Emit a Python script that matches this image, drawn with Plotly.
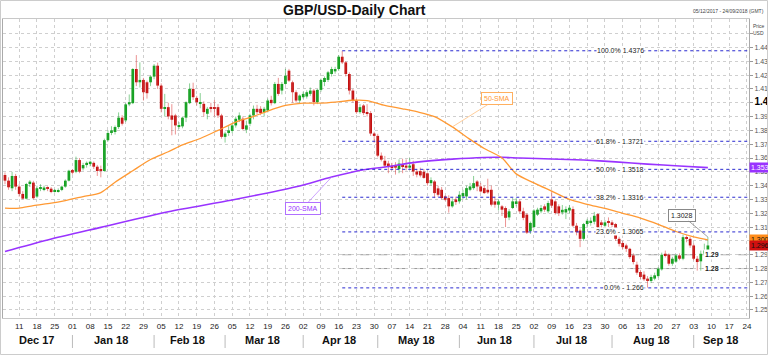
import pandas as pd
import plotly.graph_objects as go

FONT = "Arial, 'Liberation Sans', sans-serif"

# ---------------- data ----------------
trade_days = pd.bdate_range("2017-12-05", "2018-09-07")   # candles
axis_days = pd.bdate_range("2017-12-05", "2018-09-24")    # x axis extent

opens = [
    1.3477, 1.3436, 1.3381, 1.3470, 1.3393, 1.3340, 1.3306, 1.3412, 1.3422, 1.3321,
    1.3376, 1.3374, 1.3383, 1.3378, 1.3357, 1.3357, 1.3369, 1.3393, 1.3436, 1.3513,
    1.3501, 1.3585, 1.3525, 1.3549, 1.3556, 1.3565, 1.3537, 1.3520, 1.3506, 1.3729,
    1.3781, 1.3788, 1.3824, 1.3892, 1.3872, 1.3988, 1.3997, 1.4244, 1.4148, 1.4165,
    1.4148, 1.4148, 1.4189, 1.4268, 1.4124, 1.3956, 1.3968, 1.3908, 1.3908, 1.3829,
    1.3829, 1.3892, 1.3997, 1.4100, 1.4035, 1.3997, 1.3992, 1.3920, 1.3968, 1.3968,
    1.3968, 1.3908, 1.3753, 1.3781, 1.3796, 1.3836, 1.3877, 1.3884, 1.3805, 1.3848,
    1.3908, 1.3956, 1.3956, 1.3932, 1.3944, 1.4021, 1.3997, 1.4136, 1.4088, 1.4136,
    1.4232, 1.4148, 1.4076, 1.4016, 1.4040, 1.4045, 1.4064, 1.4088, 1.4004, 1.4093,
    1.4150, 1.4165, 1.4208, 1.4227, 1.4244, 1.4333, 1.4292, 1.4208, 1.4088, 1.4016,
    1.3932, 1.3980, 1.3932, 1.3925, 1.3777, 1.3760, 1.3617, 1.3580, 1.3560, 1.3545,
    1.3550, 1.3520, 1.3550, 1.3545, 1.3530, 1.3555, 1.3502, 1.3505, 1.3500, 1.3489,
    1.3418, 1.3430, 1.3380, 1.3370, 1.3322, 1.3310, 1.3250, 1.3300, 1.3286, 1.3322,
    1.3322, 1.3370, 1.3382, 1.3430, 1.3394, 1.3382, 1.3370, 1.3370, 1.3286, 1.3262,
    1.3250, 1.3238, 1.3170, 1.3238, 1.3274, 1.3286, 1.3214, 1.3190, 1.3071, 1.3100,
    1.3190, 1.3214, 1.3250, 1.3214, 1.3300, 1.3286, 1.3250, 1.3206, 1.3206, 1.3220,
    1.3230, 1.3110, 1.3075, 1.3015, 1.3122, 1.3134, 1.3139, 1.3194, 1.3134, 1.3110,
    1.3139, 1.3134, 1.3122, 1.3015, 1.2985, 1.2967, 1.2943, 1.2895, 1.2828, 1.2775,
    1.2756, 1.2727, 1.2710, 1.2727, 1.2745, 1.2794, 1.2907, 1.2900, 1.2835, 1.2850,
    1.2895, 1.2871, 1.3027, 1.3015, 1.2967, 1.2871, 1.2852, 1.2907, 1.2931,
]
highs = [
    1.3495, 1.3460, 1.3500, 1.3485, 1.3410, 1.3360, 1.3420, 1.3440, 1.3435, 1.3400,
    1.3410, 1.3400, 1.3395, 1.3390, 1.3375, 1.3380, 1.3400, 1.3445, 1.3515, 1.3520,
    1.3610, 1.3600, 1.3565, 1.3575, 1.3580, 1.3575, 1.3550, 1.3545, 1.3740, 1.3800,
    1.3830, 1.3835, 1.3930, 1.3910, 1.3995, 1.4060, 1.4250, 1.4345, 1.4292, 1.4180,
    1.4160, 1.4200, 1.4280, 1.4290, 1.4140, 1.4064, 1.4000, 1.3990, 1.3920, 1.3860,
    1.3900, 1.4010, 1.4140, 1.4145, 1.4050, 1.4070, 1.4010, 1.3970, 1.4000, 1.4020,
    1.3990, 1.3920, 1.3790, 1.3830, 1.3850, 1.3900, 1.3930, 1.3900, 1.3870, 1.3920,
    1.3980, 1.3985, 1.3975, 1.3970, 1.4030, 1.4050, 1.4150, 1.4180, 1.4150, 1.4245,
    1.4245, 1.4160, 1.4090, 1.4060, 1.4080, 1.4090, 1.4110, 1.4100, 1.4100, 1.4175,
    1.4190, 1.4230, 1.4260, 1.4260, 1.4345, 1.4376, 1.4300, 1.4220, 1.4100, 1.4030,
    1.3990, 1.3990, 1.3990, 1.3940, 1.3790, 1.3775, 1.3640, 1.3615, 1.3580, 1.3565,
    1.3570, 1.3590, 1.3595, 1.3590, 1.3600, 1.3580, 1.3520, 1.3530, 1.3520, 1.3495,
    1.3460, 1.3440, 1.3400, 1.3390, 1.3330, 1.3330, 1.3310, 1.3320, 1.3360, 1.3370,
    1.3400, 1.3420, 1.3470, 1.3440, 1.3420, 1.3400, 1.3450, 1.3400, 1.3320, 1.3300,
    1.3260, 1.3250, 1.3230, 1.3310, 1.3310, 1.3300, 1.3240, 1.3200, 1.3140, 1.3230,
    1.3240, 1.3260, 1.3265, 1.3290, 1.3362, 1.3295, 1.3265, 1.3260, 1.3250, 1.3260,
    1.3250, 1.3130, 1.3090, 1.3130, 1.3160, 1.3170, 1.3210, 1.3200, 1.3150, 1.3150,
    1.3170, 1.3150, 1.3130, 1.3030, 1.3000, 1.2980, 1.2950, 1.2910, 1.2850, 1.2790,
    1.2780, 1.2745, 1.2755, 1.2770, 1.2810, 1.2915, 1.2930, 1.2910, 1.2885, 1.2905,
    1.2910, 1.3045, 1.3040, 1.3030, 1.2980, 1.2890, 1.2930, 1.2980, 1.3028,
]
lows = [
    1.3410, 1.3370, 1.3360, 1.3370, 1.3320, 1.3300, 1.3300, 1.3390, 1.3300, 1.3310,
    1.3360, 1.3360, 1.3360, 1.3345, 1.3350, 1.3350, 1.3360, 1.3385, 1.3430, 1.3480,
    1.3490, 1.3490, 1.3510, 1.3530, 1.3540, 1.3520, 1.3470, 1.3460, 1.3500, 1.3720,
    1.3765, 1.3770, 1.3810, 1.3835, 1.3860, 1.3975, 1.3990, 1.4120, 1.4110, 1.4016,
    1.4030, 1.4120, 1.4170, 1.4100, 1.3930, 1.3900, 1.3880, 1.3764, 1.3770, 1.3810,
    1.3815, 1.3860, 1.3990, 1.4020, 1.3980, 1.3960, 1.3900, 1.3880, 1.3930, 1.3900,
    1.3890, 1.3740, 1.3712, 1.3760, 1.3780, 1.3820, 1.3860, 1.3800, 1.3780, 1.3830,
    1.3880, 1.3915, 1.3910, 1.3900, 1.3930, 1.3980, 1.3990, 1.4050, 1.4060, 1.4130,
    1.4150, 1.4000, 1.4000, 1.4000, 1.4030, 1.4030, 1.4050, 1.3980, 1.3990, 1.4080,
    1.4120, 1.4150, 1.4190, 1.4210, 1.4230, 1.4280, 1.4190, 1.4060, 1.4000, 1.3920,
    1.3920, 1.3910, 1.3900, 1.3760, 1.3710, 1.3605, 1.3575, 1.3530, 1.3490, 1.3510,
    1.3480, 1.3490, 1.3490, 1.3510, 1.3520, 1.3470, 1.3460, 1.3460, 1.3450, 1.3400,
    1.3400, 1.3310, 1.3320, 1.3300, 1.3290, 1.3205, 1.3240, 1.3260, 1.3270, 1.3300,
    1.3300, 1.3360, 1.3370, 1.3360, 1.3350, 1.3340, 1.3340, 1.3250, 1.3240, 1.3220,
    1.3180, 1.3100, 1.3150, 1.3230, 1.3250, 1.3200, 1.3150, 1.3050, 1.3050, 1.3090,
    1.3180, 1.3200, 1.3210, 1.3200, 1.3240, 1.3190, 1.3180, 1.3190, 1.3158, 1.3200,
    1.3100, 1.3040, 1.2955, 1.3000, 1.3100, 1.3110, 1.3120, 1.3090, 1.3090, 1.3100,
    1.3100, 1.3100, 1.3000, 1.2960, 1.2940, 1.2920, 1.2870, 1.2830, 1.2755, 1.2725,
    1.2710, 1.2662, 1.2695, 1.2715, 1.2735, 1.2785, 1.2880, 1.2820, 1.2820, 1.2840,
    1.2860, 1.2860, 1.2990, 1.2950, 1.2860, 1.2785, 1.2785, 1.2895, 1.2920,
]
closes = [
    1.3436, 1.3388, 1.3470, 1.3393, 1.3340, 1.3306, 1.3412, 1.3429, 1.3309, 1.3381,
    1.3388, 1.3386, 1.3376, 1.3354, 1.3369, 1.3364, 1.3393, 1.3436, 1.3508, 1.3494,
    1.3585, 1.3501, 1.3549, 1.3565, 1.3573, 1.3537, 1.3506, 1.3506, 1.3729, 1.3781,
    1.3800, 1.3824, 1.3892, 1.3848, 1.3988, 1.4004, 1.4244, 1.4148, 1.4165, 1.4076,
    1.4069, 1.4189, 1.4268, 1.4124, 1.3956, 1.3968, 1.3901, 1.3877, 1.3836, 1.3836,
    1.3892, 1.4004, 1.4100, 1.4040, 1.4004, 1.4004, 1.3932, 1.3956, 1.3956, 1.3960,
    1.3908, 1.3753, 1.3777, 1.3800, 1.3836, 1.3884, 1.3908, 1.3810, 1.3836, 1.3908,
    1.3956, 1.3932, 1.3925, 1.3956, 1.4016, 1.3997, 1.4136, 1.4064, 1.4136, 1.4196,
    1.4160, 1.4076, 1.4016, 1.4052, 1.4064, 1.4076, 1.4088, 1.4004, 1.4093, 1.4165,
    1.4179, 1.4220, 1.4244, 1.4244, 1.4333, 1.4292, 1.4208, 1.4088, 1.4016, 1.3932,
    1.3968, 1.3925, 1.3920, 1.3777, 1.3760, 1.3617, 1.3588, 1.3545, 1.3537, 1.3532,
    1.3530, 1.3560, 1.3537, 1.3530, 1.3545, 1.3502, 1.3480, 1.3474, 1.3456, 1.3418,
    1.3440, 1.3346, 1.3334, 1.3310, 1.3298, 1.3250, 1.3286, 1.3281, 1.3334, 1.3346,
    1.3382, 1.3394, 1.3418, 1.3394, 1.3358, 1.3346, 1.3351, 1.3262, 1.3262, 1.3286,
    1.3226, 1.3167, 1.3214, 1.3286, 1.3286, 1.3214, 1.3167, 1.3060, 1.3130, 1.3220,
    1.3226, 1.3238, 1.3226, 1.3274, 1.3255, 1.3202, 1.3200, 1.3225, 1.3230, 1.3240,
    1.3110, 1.3063, 1.3015, 1.3122, 1.3146, 1.3146, 1.3182, 1.3099, 1.3122, 1.3134,
    1.3130, 1.3120, 1.3015, 1.2979, 1.2955, 1.2943, 1.2883, 1.2847, 1.2770, 1.2739,
    1.2722, 1.2710, 1.2739, 1.2751, 1.2799, 1.2900, 1.2895, 1.2835, 1.2871, 1.2895,
    1.2871, 1.3027, 1.3015, 1.2967, 1.2871, 1.2847, 1.2907, 1.2931, 1.2967,
]

sma50_dates = [
    "2017-12-05", "2017-12-11", "2017-12-15", "2017-12-22", "2017-12-28", "2018-01-04",
    "2018-01-11", "2018-01-17", "2018-01-24", "2018-01-31", "2018-02-07", "2018-02-13",
    "2018-02-20", "2018-02-27", "2018-03-06", "2018-03-13", "2018-03-19", "2018-03-26",
    "2018-04-02", "2018-04-09", "2018-04-13", "2018-04-20", "2018-04-26", "2018-05-03",
    "2018-05-10", "2018-05-16", "2018-05-23", "2018-05-30", "2018-06-06", "2018-06-12",
    "2018-06-19", "2018-06-25", "2018-07-02", "2018-07-09", "2018-07-16", "2018-07-23",
    "2018-07-30", "2018-08-06", "2018-08-13", "2018-08-20", "2018-08-27", "2018-09-03",
    "2018-09-07",
]
sma50_values = [
    1.3237, 1.3237, 1.3256, 1.3273, 1.3292, 1.3321,
    1.3350, 1.3425, 1.3508, 1.3589, 1.3645, 1.3695,
    1.3741, 1.3800, 1.3860, 1.3901, 1.3940, 1.3980,
    1.3997, 1.3997, 1.4004, 1.4018, 1.4016, 1.3980,
    1.3956, 1.3935, 1.3900, 1.3825, 1.3735, 1.3669,
    1.3600, 1.3485, 1.3420, 1.3360, 1.3300, 1.3265,
    1.3235, 1.3200, 1.3165, 1.3120, 1.3068, 1.3030,
    1.3008,
]
sma200_dates = [
    "2017-12-05", "2017-12-21", "2018-01-11", "2018-02-07", "2018-03-05", "2018-03-29",
    "2018-04-12", "2018-04-25", "2018-05-03", "2018-05-16", "2018-05-30", "2018-06-12",
    "2018-06-19", "2018-06-26", "2018-07-09", "2018-07-20", "2018-08-02", "2018-08-15",
    "2018-08-28", "2018-09-07",
]
sma200_values = [
    1.2924, 1.3007, 1.3098, 1.3211, 1.3296, 1.3392,
    1.3462, 1.3515, 1.3535, 1.3570, 1.3592, 1.3604,
    1.3605, 1.3600, 1.3593, 1.3585, 1.3572, 1.3556,
    1.3542, 1.3530,
]

fib_pct = ["100.0%", "61.8%", "50.0%", "38.2%", "23.6%", "0.0%"]
fib_levels = [1.4376, 1.3721, 1.3518, 1.3316, 1.3065, 1.266]
support_levels = [1.29, 1.28]

# ---------------- styles ----------------
GREEN, RED = "#14a01e", "#c00d0d"
WICK_UP, WICK_DN = "rgba(40,170,60,0.55)", "rgba(220,60,60,0.55)"
ORANGE, PURPLE, FIB = "#ff9933", "#9933ff", "#2a2ad0"
GRID = "#cfcfcf"

W, H = 768, 355
ML, MR, MT, MB = 3, 19, 19, 37
PW, PH = W - ML - MR, H - MT - MB
XR = [-0.56, 209.58]
YR = [1.2442, 1.4606]

pos = {d.strftime("%Y-%m-%d"): i for i, d in enumerate(axis_days)}
xi = [pos[d.strftime("%Y-%m-%d")] for d in trade_days]

fig = go.Figure()

# wicks
for is_up, col in ((True, WICK_UP), (False, WICK_DN)):
    wx, wy = [], []
    for k in range(len(xi)):
        if (closes[k] >= opens[k]) == is_up:
            wx += [xi[k], xi[k], None]
            wy += [lows[k], highs[k], None]
    fig.add_trace(go.Scatter(x=wx, y=wy, mode="lines", line=dict(color=col, width=1),
                             hoverinfo="skip", showlegend=False))

# bodies
bases = [min(o, c) for o, c in zip(opens, closes)]
hts = [max(abs(c - o), 0.0003) for o, c in zip(opens, closes)]
cols = [GREEN if c >= o else RED for o, c in zip(opens, closes)]
fig.add_trace(go.Bar(x=xi, y=hts, base=bases, width=0.76, marker=dict(color=cols, line=dict(width=0)),
                     hoverinfo="skip", showlegend=False))

# moving averages
fig.add_trace(go.Scatter(x=[pos[d] for d in sma200_dates], y=sma200_values, mode="lines",
                         line=dict(color=PURPLE, width=1.6, shape="spline", smoothing=0.8),
                         hoverinfo="skip", showlegend=False))
fig.add_trace(go.Scatter(x=[pos[d] for d in sma50_dates], y=sma50_values, mode="lines",
                         line=dict(color=ORANGE, width=1.3, shape="spline", smoothing=0.8),
                         hoverinfo="skip", showlegend=False))

shapes, annos = [], []

# fibonacci retracement
hi_idx = xi[highs.index(max(highs))]
for pct, lvl in zip(fib_pct, fib_levels):
    shapes.append(dict(type="line", xref="x", yref="y", x0=hi_idx, x1=XR[1], y0=lvl, y1=lvl,
                       line=dict(color=FIB, width=1, dash="dot"), layer="above"))
    sep = " " if pct == "100.0%" else " - "
    annos.append(dict(xref="paper", yref="y", x=(645 - ML) / PW, y=lvl, text=f"{pct}{sep}{lvl:g}",
                      showarrow=False, font=dict(family=FONT, size=7, color="#222"),
                      bgcolor="white", borderpad=0))
for lvl in support_levels:
    shapes.append(dict(type="line", xref="x", yref="y", x0=hi_idx, x1=XR[1], y0=lvl, y1=lvl,
                       line=dict(color="#999999", width=1, dash="dash"), layer="below"))
    annos.append(dict(xref="paper", yref="y", x=(721 - ML) / PW, y=lvl, text=f"<b>{lvl:g}</b>",
                      showarrow=False, font=dict(family=FONT, size=7, color="#222"),
                      bgcolor="white", borderpad=1))

# SMA labels
s50 = dict(zip(sma50_dates, sma50_values))
s200 = dict(zip(sma200_dates, sma200_values))
annos.append(dict(x=pos["2018-05-30"], y=s50["2018-05-30"], xref="x", yref="y",
                  ax=138.7, ay=1.4030, axref="x", ayref="y", text="50-SMA",
                  showarrow=True, arrowhead=0, arrowwidth=0.8, arrowcolor="#ffc080",
                  font=dict(family=FONT, size=7, color=ORANGE), bgcolor="white",
                  bordercolor="#ffb060", borderwidth=1, borderpad=2))
annos.append(dict(x=pos["2018-04-12"], y=s200["2018-04-12"], xref="x", yref="y",
                  ax=83.9, ay=1.3238, axref="x", ayref="y", text="200-SMA",
                  showarrow=True, arrowhead=0, arrowwidth=0.8, arrowcolor="#c08cff",
                  font=dict(family=FONT, size=7, color=PURPLE), bgcolor="white",
                  bordercolor="#b070ff", borderwidth=1, borderpad=2))
annos.append(dict(x=xi[-1], y=highs[-1], xref="x", yref="y",
                  ax=190.6, ay=1.3187, axref="x", ayref="y", text=f"{highs[-1]:.4f}",
                  showarrow=True, arrowhead=0, arrowwidth=0.8, arrowcolor="#888",
                  font=dict(family=FONT, size=7, color="#222"), bgcolor="white",
                  bordercolor="#888", borderwidth=1, borderpad=2))

# value boxes on the price scale
def fmt(v):
    return f"{v:.4f}".rstrip("0")
for v, bg, fc in ((sma200_values[-1], PURPLE, "white"), (sma50_values[-1], "#ff8c1a", "#111"),
                  (closes[-1], "#d01010", "#111")):
    annos.append(dict(xref="paper", yref="y", x=1, y=v, xanchor="left", xshift=0, text=fmt(v),
                      showarrow=False, font=dict(family=FONT, size=7, color=fc), bgcolor=bg,
                      borderpad=1))

# month labels and separators
months = {}
for i, d in enumerate(axis_days):
    months.setdefault(d.strftime("%b %y"), []).append(i)
for k, (lab, idxs) in enumerate(months.items()):
    annos.append(dict(xref="x", yref="paper", x=(idxs[0] + idxs[-1]) / 2, y=0, yshift=-22,
                      yanchor="middle", text=f"<b>{lab}</b>", showarrow=False,
                      font=dict(family=FONT, size=11, color="#111")))
    if k > 0:
        shapes.append(dict(type="line", xref="x", yref="paper", x0=idxs[0], x1=idxs[0],
                           y0=-17 / PH, y1=-30 / PH, line=dict(color="#bbbbbb", width=1)))

# header texts
annos.append(dict(xref="paper", yref="paper", x=(766 - ML) / PW, y=1, yshift=3, xanchor="right",
                  yanchor="bottom", text="05/12/2017 - 24/09/2018 (GMT)", showarrow=False,
                  font=dict(family=FONT, size=5, color="#444")))
annos.append(dict(xref="paper", yref="paper", x=1, xshift=2, y=1, yshift=-2, xanchor="left",
                  yanchor="top", text="Price<br>USD", showarrow=False, align="left",
                  font=dict(family=FONT, size=5, color="#444")))

# outer frame
shapes.append(dict(type="rect", xref="paper", yref="paper", x0=-(ML - 0.5) / PW, x1=(PW + MR - 0.5) / PW,
                   y0=-(MB - 0.5) / PH, y1=(PH + MT - 0.5) / PH, line=dict(color="#cccccc", width=1)))

mondays = [i for i, d in enumerate(axis_days) if d.weekday() == 0]
yt = [round(1.25 + 0.01 * k, 2) for k in range(21)]
ytxt = []
for v in yt:
    if v == 1.45:
        ytxt.append("")
    elif abs(v - 1.40) < 1e-9 or abs(v - 1.30) < 1e-9:
        ytxt.append(f"<b><span style='font-size:10px;color:#000'>{v:g}</span></b>")
    else:
        ytxt.append(f"{v:.2f}")

fig.update_layout(
    width=W, height=H, margin=dict(l=ML, r=MR, t=MT, b=MB, autoexpand=False),
    paper_bgcolor="white", plot_bgcolor="white", showlegend=False, barmode="overlay",
    title=dict(text="<b>GBP/USD-Daily Chart</b>", x=283 / W, xanchor="left", xref="container",
               y=1 - 10 / H, yanchor="middle", yref="container",
               font=dict(family=FONT, size=14, color="#111")),
    xaxis=dict(range=XR, tickmode="array", tickvals=mondays,
               ticktext=[axis_days[i].strftime("%d") for i in mondays],
               tickfont=dict(family=FONT, size=8, color="#222"), ticks="",
               showgrid=True, gridcolor=GRID, griddash="dot", gridwidth=1, automargin=False,
               showline=True, linecolor="#c8c8c8", mirror=True, zeroline=False, fixedrange=True),
    yaxis=dict(range=YR, side="right", tickmode="array", tickvals=yt, ticktext=ytxt,
               tickfont=dict(family=FONT, size=7, color="#555"), ticks="outside", ticklen=3,
               tickcolor="#999", showgrid=True, gridcolor=GRID, griddash="dot", gridwidth=1,
               automargin=False,
               showline=True, linecolor="#aaaaaa", mirror=True, zeroline=False, fixedrange=True),
    shapes=shapes, annotations=annos,
)

fig.write_html("out.html", config={"displayModeBar": False},
               post_script="document.body.style.margin='0px';")
